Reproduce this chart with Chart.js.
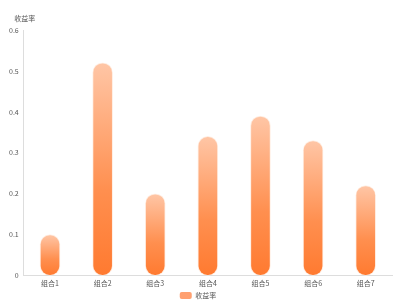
<!DOCTYPE html>
<html>
<head>
<meta charset="utf-8">
<script src="https://cdn.jsdelivr.net/npm/chart.js@4/dist/chart.umd.min.js"></script>
<style>
  html, body { margin: 0; padding: 0; background: #fff; }
  #wrap { width: 400px; height: 300px; }
</style>
</head>
<body>
<div id="wrap"><canvas id="c"></canvas></div>
<script>
const labels = ["组合1", "组合2", "组合3", "组合4", "组合5", "组合6", "组合7"];
const returns = [0.1, 0.52, 0.2, 0.34, 0.39, 0.33, 0.22];
const yTicks = [0, 0.1, 0.2, 0.3, 0.4, 0.5, 0.6];
const yName = "收益率";

const FONT = "'Noto Sans CJK SC', 'Noto Sans', sans-serif";

// gradient per bar, light at top, strong orange at the base
function barGradient(context) {
  const chart = context.chart;
  const { ctx, chartArea, scales } = chart;
  if (!chartArea || context.parsed === undefined) return "#ff8a45";
  const top = scales.y.getPixelForValue(context.parsed.y);
  const base = scales.y.getPixelForValue(0);
  const g = ctx.createLinearGradient(0, top, 0, base);
  g.addColorStop(0, "#ffc6a6");
  g.addColorStop(0.6, "#ff8f4f");
  g.addColorStop(1, "#ff7a30");
  return g;
}

// axis name written flat above the y axis
const axisName = {
  id: "axisName",
  afterDraw(chart) {
    const { ctx, chartArea } = chart;
    ctx.save();
    ctx.font = "7px " + FONT;
    ctx.fillStyle = "#555";
    ctx.textAlign = "center";
    ctx.textBaseline = "middle";
    ctx.fillText(yName, chartArea.left + 1, chartArea.top - 12);
    ctx.restore();
  }
};

new Chart(document.getElementById("c"), {
  type: "bar",
  data: {
    labels: labels,
    datasets: [{
      label: "收益率",
      data: returns,
      backgroundColor: barGradient,
      borderColor: "rgba(255,236,224,0.9)",
      borderWidth: 1,
      borderRadius: 10,
      borderSkipped: false,
      barThickness: 20
    }]
  },
  options: {
    responsive: true,
    maintainAspectRatio: false,
    animation: false,
    layout: { padding: { left: 4, right: 8, top: 30, bottom: -9 } },
    plugins: {
      legend: {
        position: "bottom",
        labels: {
          font: { family: FONT, size: 7 },
          color: "#555",
          boxWidth: 12,
          boxHeight: 7,
          useBorderRadius: true,
          borderRadius: 2,
          padding: 0,
          generateLabels: function (chart) {
            return [{
              text: "收益率",
              fillStyle: "#ffa070",
              strokeStyle: "#ff9a60",
              lineWidth: 0,
              borderRadius: 2,
              datasetIndex: 0,
              fontColor: "#555"
            }];
          }
        }
      },
      tooltip: { enabled: false }
    },
    scales: {
      x: {
        grid: { display: false, drawTicks: false },
        border: { color: "#ddd" },
        ticks: { color: "#555", font: { family: FONT, size: 7 }, padding: 4 }
      },
      y: {
        min: 0,
        max: 0.6,
        afterBuildTicks: function (axis) {
          axis.ticks = yTicks.map(v => ({ value: v }));
        },
        grid: { display: false, drawTicks: false },
        border: { color: "#ddd" },
        ticks: {
          color: "#555",
          font: { family: FONT, size: 7 },
          padding: 5,
          callback: v => String(v)
        }
      }
    }
  },
  plugins: [axisName]
});
</script>
</body>
</html>
